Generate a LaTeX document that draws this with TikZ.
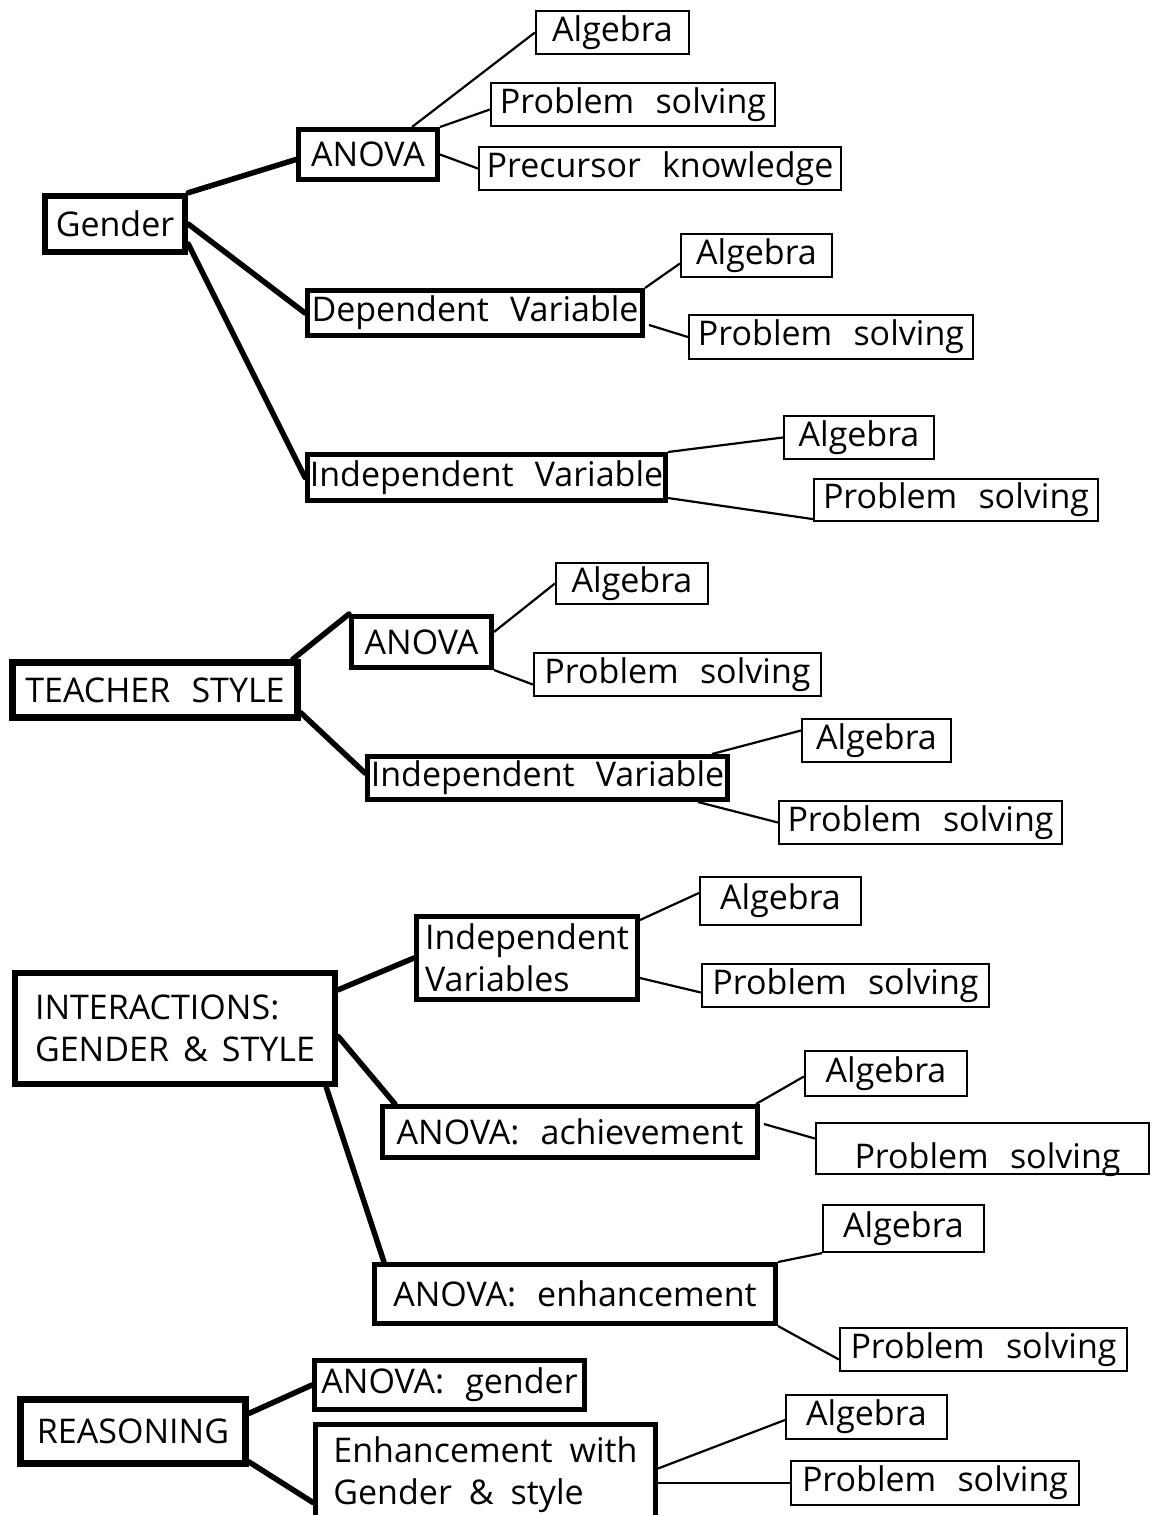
\documentclass[tikz,border=0pt]{standalone}
\usepackage{fontspec}
\setmainfont{Open Sans}[WordSpace=2.4]
\newcommand\boxfont{\fontsize{34}{42}\selectfont}
\tikzset{
  leaf/.style={draw, line width=2.2pt, inner sep=0pt, font=\boxfont},
  hub/.style={draw, line width=5pt, inner sep=0pt, font=\boxfont},
  root/.style={hub, line width=6.5pt},
  twig/.style={line width=2.2pt},
  limb/.style={line width=5.5pt, line cap=round},
}
\begin{document}
\begin{tikzpicture}[x=1pt, y=-1pt]
\useasboundingbox (0,0) rectangle (1155,1515);

% ---------- Gender ----------
\node[root, minimum width=140pt, minimum height=56pt] (gender) at (115,224) {Gender};
\node[hub, minimum width=139pt, minimum height=50pt] (anova1) at (368,154.5) {ANOVA};
\node[hub, minimum width=335pt, minimum height=45pt] (dv) at (475,313) {Dependent Variable};
\node[hub, minimum width=358pt, minimum height=46pt] (iv1) at (486.5,477.5) {Independent Variable};
\node[leaf, minimum width=153pt, minimum height=43pt] (alg1) at (612.5,32.5) {Algebra};
\node[leaf, minimum width=284pt, minimum height=43pt] (ps1) at (633,104.5) {Problem solving};
\node[leaf, minimum width=362pt, minimum height=43pt] (prec) at (660,168.5) {Precursor knowledge};
\node[leaf, minimum width=151pt, minimum height=43pt] (alg2) at (756.5,255.5) {Algebra};
\node[leaf, minimum width=284pt, minimum height=44pt] (ps2) at (831,337) {Problem solving};
\node[leaf, minimum width=150pt, minimum height=43pt] (alg3) at (859,437.5) {Algebra};
\node[leaf, minimum width=284pt, minimum height=42pt] (ps3) at (956,500) {Problem solving};

\draw[limb] (gender.north east) -- ([shift={(0,5)}]anova1.west);
\draw[limb] (gender.east) -- (dv.west);
\draw[limb] ([shift={(0,20)}]gender.east) -- (iv1.west);
\draw[twig] ([shift={(44,0)}]anova1.north) -- (alg1.west);
\draw[twig] (anova1.north east) -- ([shift={(0,5)}]ps1.west);
\draw[twig] (anova1.east) -- (prec.west);
\draw[twig] (dv.north east) -- ([shift={(0,8)}]alg2.west);
\draw[twig] ([shift={(4,12)}]dv.east) -- (ps2.west);
\draw[twig] (iv1.north east) -- (alg3.west);
\draw[twig] ([shift={(0,-5)}]iv1.south east) -- ([shift={(0,-3)}]ps3.south west);

% ---------- Teacher style ----------
\node[root, minimum width=285pt, minimum height=55pt] (ts) at (155,690) {TEACHER STYLE};
\node[hub, minimum width=140pt, minimum height=51pt] (anova2) at (421.5,642) {ANOVA};
\node[hub, minimum width=360pt, minimum height=43pt] (iv2) at (547.5,778) {Independent Variable};
\node[leaf, minimum width=152pt, minimum height=41pt] (alg4) at (632,583.5) {Algebra};
\node[leaf, minimum width=287pt, minimum height=43pt] (ps4) at (677.5,674.5) {Problem solving};
\node[leaf, minimum width=149pt, minimum height=43pt] (alg5) at (876.5,740.5) {Algebra};
\node[leaf, minimum width=283pt, minimum height=43pt] (ps5) at (920.5,822.5) {Problem solving};

\draw[limb] ([shift={(-8,0)}]ts.north east) -- (anova2.north west);
\draw[limb] ([shift={(0,-8)}]ts.south east) -- ([shift={(0,-5)}]iv2.west);
\draw[twig] ([shift={(0,-10)}]anova2.east) -- (alg4.west);
\draw[twig] (anova2.south east) -- ([shift={(0,10)}]ps4.west);
\draw[twig] ([shift={(-18,0)}]iv2.north east) -- ([shift={(0,-10)}]alg5.west);
\draw[twig] ([shift={(-32,0)}]iv2.south east) -- (ps5.west);

% ---------- Interactions ----------
\node[root, minimum width=320pt, minimum height=111pt, align=left] (inter) at (175,1028.5)
  {INTERACTIONS:\\GENDER\hspace{14pt}\&\hspace{14pt}STYLE};
\node[hub, minimum width=221pt, minimum height=83pt, align=left] (ivs) at (527,958) {Independent\\Variables};
\node[hub, minimum width=375pt, minimum height=51pt] (ach) at (570,1132) {ANOVA: achievement};
\node[hub, minimum width=401pt, minimum height=59pt] (enh) at (575,1294) {ANOVA: enhancement};
\node[leaf, minimum width=161pt, minimum height=48pt] (alg6) at (780.5,901) {Algebra};
\node[leaf, minimum width=287pt, minimum height=43pt] (ps6) at (845.5,985.5) {Problem solving};
\node[leaf, minimum width=162pt, minimum height=45pt] (alg7) at (886,1073.5) {Algebra};
\node[leaf, minimum width=333pt, minimum height=51pt] (ps7) at (982.5,1148.5)
  {\hspace*{10pt}\raisebox{-20pt}[0pt][0pt]{Problem solving}};
\node[leaf, minimum width=161pt, minimum height=47pt] (alg8) at (903.5,1228.5) {Algebra};
\node[leaf, minimum width=287pt, minimum height=43pt] (ps8) at (983.5,1349.5) {Problem solving};

\draw[limb] ([shift={(0,20)}]inter.north east) -- (ivs.west);
\draw[limb] ([shift={(0,8)}]inter.east) -- ([shift={(15,0)}]ach.north west);
\draw[limb] ([shift={(-12,0)}]inter.south east) -- ([shift={(12,0)}]enh.north west);
\draw[twig] ([shift={(0,6)}]ivs.north east) -- ([shift={(0,-8)}]alg6.west);
\draw[twig] ([shift={(0,20)}]ivs.east) -- ([shift={(0,7)}]ps6.west);
\draw[twig] ([shift={(-4,0)}]ach.north east) -- ([shift={(0,3)}]alg7.west);
\draw[twig] ([shift={(4,-8)}]ach.east) -- ([shift={(0,-10)}]ps7.west);
\draw[twig] (enh.north east) -- (alg8.south west);
\draw[twig] (enh.south east) -- ([shift={(0,10)}]ps8.west);

% ---------- Reasoning ----------
\node[root, minimum width=225pt, minimum height=64pt] (reas) at (133,1431.5) {REASONING};
\node[hub, minimum width=270pt, minimum height=49pt] (ag) at (449.5,1385) {ANOVA: gender};
\node[hub, minimum width=340pt, minimum height=100pt, align=left] (ewg) at (485.5,1474.5)
  {Enhancement\hspace{17pt}with\\Gender\hspace{17pt}\&\hspace{17pt}style};
\node[leaf, minimum width=161pt, minimum height=44pt] (alg9) at (866.5,1417) {Algebra};
\node[leaf, minimum width=288pt, minimum height=44pt] (ps9) at (935,1483) {Problem solving};

\draw[limb] ([shift={(0,-18)}]reas.east) -- (ag.west);
\draw[limb] ([shift={(0,-5)}]reas.south east) -- ([shift={(0,28)}]ewg.west);
\draw[twig] ([shift={(0,-6)}]ewg.east) -- ([shift={(0,3)}]alg9.west);
\draw[twig] (ewg.east |- ps9.west) -- (ps9.west);
\end{tikzpicture}
\end{document}
